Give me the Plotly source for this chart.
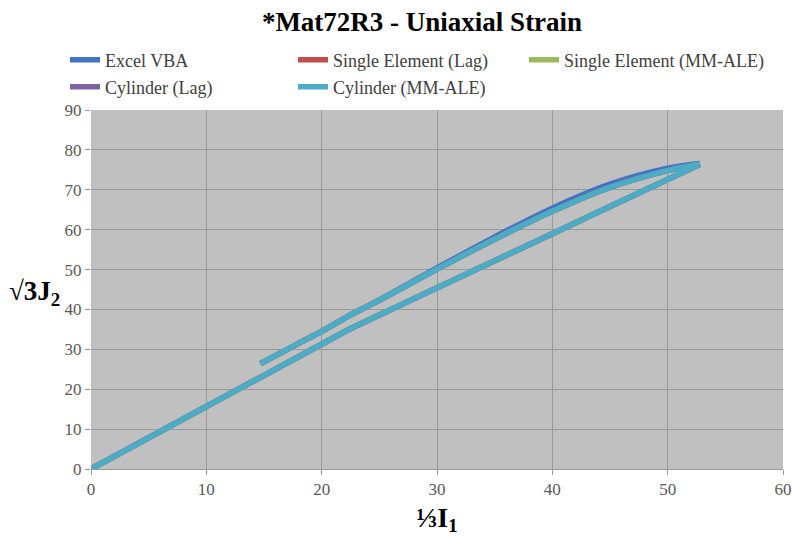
import plotly.graph_objects as go

# Loading branch (lower line), from origin to peak
load_x = [0, 10, 20, 22.3, 25, 30, 35, 40, 45, 50, 52.8]
load_y = [0, 15.5, 31.0, 34.9, 38.6, 45.5, 52.2, 59.0, 65.8, 72.5, 76.4]
# Unloading branch (upper line), from peak back down
unload_x = [52.8, 50, 45, 40, 35, 30, 25, 22.5, 20, 18, 14.7]
unload_y = [76.4, 74.8, 70.6, 64.6, 57.6, 50.1, 42.3, 38.6, 34.5, 31.5, 26.4]
# Excel VBA upper branch sits slightly above the others
vba_unload_y = [76.6, 75.4, 71.4, 65.4, 58.2, 50.4, 42.4, 38.6, 34.5, 31.5, 26.4]

series_names = ["Excel VBA", "Single Element (Lag)", "Single Element (MM-ALE)",
                "Cylinder (Lag)", "Cylinder (MM-ALE)"]
series_colors = ["#4472C4", "#C0504D", "#9BBB59", "#8064A2", "#4BACC6"]
legend_ids = ["legend", "legend2", "legend3", "legend4", "legend5"]

x_ticks = [0, 10, 20, 30, 40, 50, 60]
y_ticks = [0, 10, 20, 30, 40, 50, 60, 70, 80, 90]

FONT = "Liberation Serif"

fig = go.Figure()
for name, color, leg in zip(series_names, series_colors, legend_ids):
    uy = vba_unload_y if name == "Excel VBA" else unload_y
    fig.add_trace(go.Scatter(
        x=load_x, y=load_y, mode="lines", name=name, legendgroup=name,
        legend=leg, line=dict(color=color, width=5.5)))
    fig.add_trace(go.Scatter(
        x=unload_x, y=uy, mode="lines", name=name, legendgroup=name,
        legend=leg, showlegend=False,
        line=dict(color=color, width=5.5, shape="spline", smoothing=0.8)))

leg_common = dict(orientation="h", xref="container", yref="container",
                  xanchor="left", yanchor="middle", itemwidth=30,
                  font=dict(size=18, color="#404040", family=FONT),
                  bgcolor="rgba(0,0,0,0)")
leg_pos = {
    "legend": (65, 60), "legend2": (293, 60), "legend3": (524, 60),
    "legend4": (65, 87), "legend5": (293, 87),
}
legend_layout = {k: dict(x=px / 794, y=1 - py / 537, **leg_common)
                 for k, (px, py) in leg_pos.items()}

fig.update_layout(
    width=794, height=537,
    margin=dict(l=91, r=11, t=110, b=68, autoexpand=False),
    paper_bgcolor="white", plot_bgcolor="#C0C0C0",
    font=dict(family=FONT, color="#404040"),
    title=dict(text="<b>*Mat72R3 - Uniaxial Strain</b>", x=422 / 794, xanchor="center",
               xref="container", y=1 - 22 / 537, yanchor="middle", yref="container",
               font=dict(size=27, color="black", family=FONT)),
    showlegend=True,
    **legend_layout,
)
fig.update_xaxes(range=[0, 60], tickvals=x_ticks, showgrid=True, gridcolor="#999999",
                 gridwidth=1, zeroline=False, showline=True, linecolor="#999999",
                 ticks="outside", ticklen=5, tickcolor="#999999",
                 tickfont=dict(size=17, color="#595959", family=FONT),
                 title=dict(text="<b>⅓I<sub>1</sub></b>", standoff=8,
                            font=dict(size=28, color="black", family=FONT)))
fig.update_yaxes(range=[0, 90], tickvals=y_ticks, showgrid=True, gridcolor="#999999",
                 gridwidth=1, zeroline=False, showline=False,
                 ticks="outside", ticklen=5, tickcolor="#999999",
                 tickfont=dict(size=17, color="#595959", family=FONT))
fig.add_annotation(text="<b>√3J<sub>2</sub></b>", xref="paper", yref="paper",
                   x=-0.082, y=0.49, xanchor="center", yanchor="middle",
                   showarrow=False, font=dict(size=27, color="black", family=FONT))

fig.write_html("out.html")
